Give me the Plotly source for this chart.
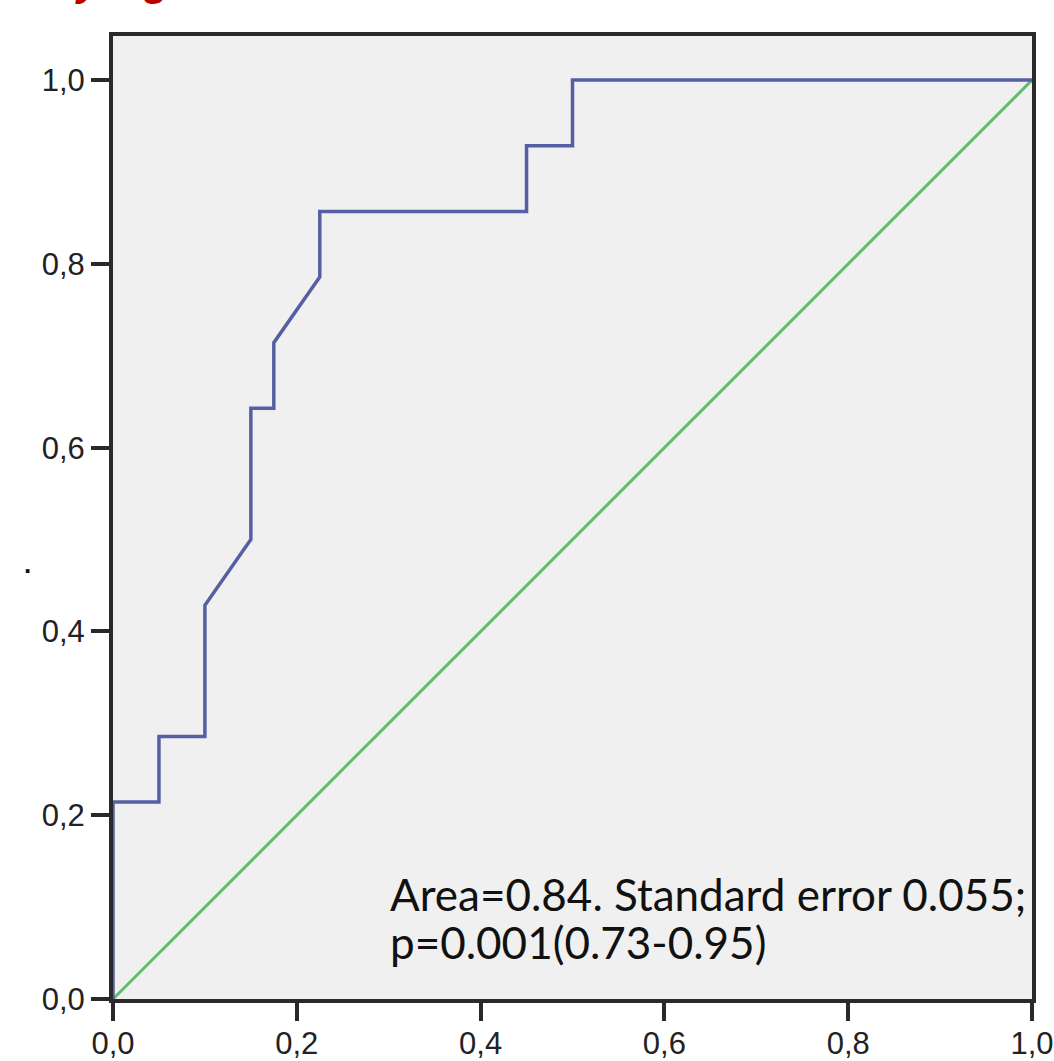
import plotly.graph_objects as go

# ROC curve points (1 - specificity, sensitivity)
roc_fpr = [0.0, 0.0, 0.05, 0.05, 0.10, 0.10, 0.15, 0.15, 0.175, 0.175, 0.225, 0.225, 0.45, 0.45, 0.50, 0.50, 1.0]
roc_tpr = [0.0, 3/14, 3/14, 4/14, 4/14, 6/14, 7/14, 9/14, 9/14, 10/14, 11/14, 12/14, 12/14, 13/14, 13/14, 1.0, 1.0]

ref_x = [0.0, 1.0]
ref_y = [0.0, 1.0]

tick_vals = [0.0, 0.2, 0.4, 0.6, 0.8, 1.0]
tick_text = ["0,0", "0,2", "0,4", "0,6", "0,8", "1,0"]

note_lines = ["Area=0.84. Standard error 0.055;", "p=0.001(0.73-0.95)"]

fig = go.Figure()
fig.add_trace(go.Scatter(x=ref_x, y=ref_y, mode="lines",
                         line=dict(color="#5dbf6c", width=3), showlegend=False, hoverinfo="skip"))
fig.add_trace(go.Scatter(x=roc_fpr, y=roc_tpr, mode="lines",
                         line=dict(color="#5560a4", width=3.5), showlegend=False))

axis_common = dict(
    showgrid=False, zeroline=False, showline=True, linecolor="#2a2a2a", linewidth=4,
    mirror=True, ticks="outside", ticklen=18, tickwidth=3.5, tickcolor="#2a2a2a",
    tickvals=tick_vals, ticktext=tick_text, automargin=False, ticklabeloverflow="allow",
    tickfont=dict(family="Liberation Sans", size=31, color="#222222"),
)

fig.update_xaxes(range=[0, 1.0], ticklabelstandoff=-4, **axis_common)
fig.update_yaxes(range=[0, 1.048], **axis_common)

for line_text, ypos in zip(note_lines, [0.1145, 0.0625]):
    fig.add_annotation(x=0.299, y=ypos, xref="x", yref="y", xanchor="left", yanchor="middle",
                       text=line_text, showarrow=False, align="left",
                       font=dict(family="Lato", size=44, color="#111111"))

# partially visible red title at the very top (cut off in the original)
fig.add_annotation(x=0.0, y=1.0, xref="paper", yref="paper", xanchor="left", yanchor="bottom",
                   xshift=-40, yshift=30, text="<b><i>y</i></b>", showarrow=False,
                   font=dict(family="Liberation Sans", size=42, color="#c00000"))
fig.add_annotation(x=0.0, y=1.0, xref="paper", yref="paper", xanchor="left", yanchor="bottom",
                   xshift=28, yshift=30, text="<b><i>g</i></b>", showarrow=False,
                   font=dict(family="Liberation Sans", size=42, color="#c00000"))
# small mark left of the y axis
fig.add_annotation(x=0.0, y=0.473, xref="paper", yref="y", xanchor="center", yanchor="middle",
                   xshift=-86, text="<b>.</b>", showarrow=False,
                   font=dict(family="Liberation Sans", size=26, color="#111111"))

fig.update_layout(
    width=1054, height=1061,
    margin=dict(l=113, r=22, t=36, b=62),
    plot_bgcolor="#f0f0f0", paper_bgcolor="#ffffff",
)

fig.write_html("out.html")
